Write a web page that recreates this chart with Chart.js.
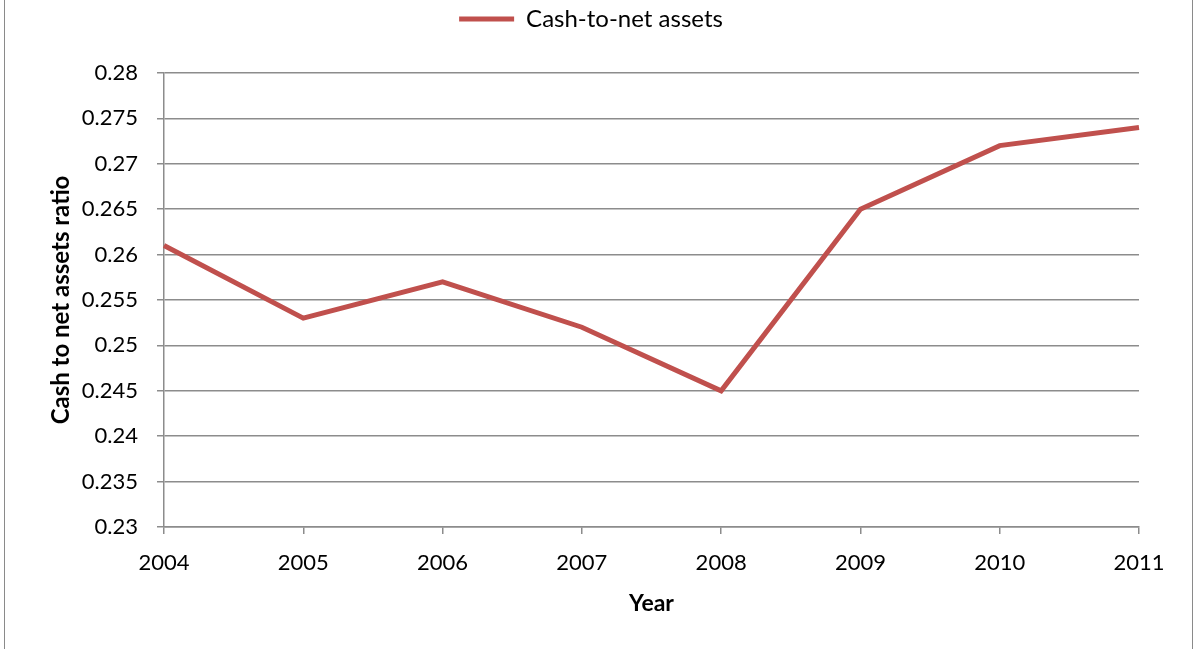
<!DOCTYPE html>
<html>
<head>
<meta charset="utf-8">
<script src="https://cdn.jsdelivr.net/npm/chart.js@4"></script>
<style>
  html, body { margin: 0; padding: 0; background: #fff; }
  #wrap { position: absolute; left: 4px; top: -1px; width: 1189px; height: 651px; border: 1px solid #8a8a8a; box-sizing: border-box; }
  #cashChart { position: absolute; left: 0; top: 0; }
</style>
</head>
<body>
<div id="wrap"></div>
<canvas id="cashChart" width="1195" height="649"></canvas>
<script>
const years = ['2004', '2005', '2006', '2007', '2008', '2009', '2010', '2011'];
const cashToNet = [0.261, 0.253, 0.257, 0.252, 0.245, 0.265, 0.272, 0.274];
const yMin = 0.23;
const yMax = 0.28;
const yStep = 0.005;

const chartEl = document.querySelector('#cashChart');
const font = 'Lato, "Open Sans", sans-serif';

// keep the legend at the top but leave the plot starting lower down
const legendGap = {
  id: 'legendGap',
  beforeInit(chart) {
    const fit = chart.legend.fit;
    chart.legend.fit = function () {
      fit.call(this);
      this.height = 73;
    };
  }
};

new Chart(chartEl, {
  type: 'line',
  data: {
    labels: years,
    datasets: [
      {
        label: 'Cash-to-net assets',
        data: cashToNet,
        borderColor: '#c0504d',
        backgroundColor: '#c0504d',
        borderWidth: 5,
        pointRadius: 0,
        tension: 0
      }
    ]
  },
  options: {
    responsive: false,
    animation: false,
    layout: { padding: { left: 43, right: 56, top: 0, bottom: 28 } },
    plugins: {
      legend: {
        position: 'top',
        labels: {
          usePointStyle: true,
          pointStyle: 'line',
          pointStyleWidth: 55,
          color: '#000',
          font: { family: font, size: 24 },
          padding: 7
        }
      },
      tooltip: { enabled: false }
    },
    scales: {
      x: {
        offset: false,
        grid: { drawOnChartArea: false, color: '#8c8c8c', lineWidth: 1.5, tickLength: 7 },
        border: { color: '#8c8c8c', width: 1.5 },
        ticks: { color: '#000', font: { family: font, size: 22 }, padding: 16, maxRotation: 0 },
        title: { display: true, text: 'Year', color: '#000', font: { family: font, size: 23, weight: 'bold' }, padding: { top: 12 } },
        afterFit: (s) => { s.height = 94; }
      },
      y: {
        min: yMin,
        max: yMax,
        grid: { color: '#8c8c8c', lineWidth: 1.5, tickLength: 7 },
        border: { color: '#8c8c8c', width: 1.5 },
        ticks: {
          stepSize: yStep,
          color: '#000',
          font: { family: font, size: 22 },
          padding: 19,
          callback: (v) => parseFloat(v.toFixed(3)).toString()
        },
        title: { display: true, text: 'Cash to net assets ratio', color: '#000', font: { family: font, size: 24, weight: 'bold' }, padding: { bottom: 12 } },
        afterFit: (s) => { s.width = 121; }
      }
    }
  },
  plugins: [legendGap]
});
</script>
</body>
</html>
